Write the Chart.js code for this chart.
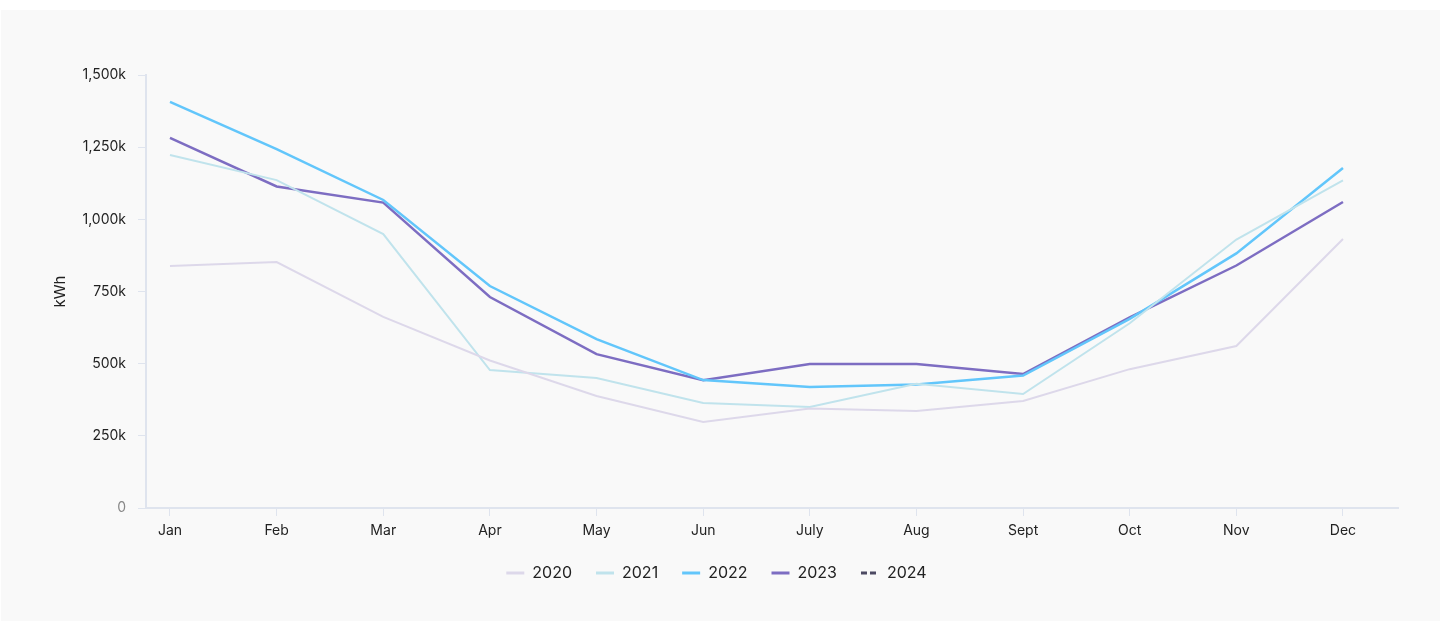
<!DOCTYPE html>
<html>
<head>
<meta charset="utf-8">
<script src="https://cdn.jsdelivr.net/npm/chart.js@4"></script>
<style>
    body { margin: 0; background: #ffffff; }
    #box { position: absolute; left: 1px; top: 10px; width: 1439px; height: 611px; background: #f9f9f9; }
</style>
</head>
<body>
<div id="box"><canvas id="usage" width="1439" height="611"></canvas></div>
<script>
// monthly usage in thousands of kWh
let months = ["Jan", "Feb", "Mar", "Apr", "May", "Jun", "July", "Aug", "Sept", "Oct", "Nov", "Dec"];
let years = ["2020", "2021", "2022", "2023", "2024"];
let usage2020 = [838, 852, 662, 511, 388, 298, 345, 336, 371, 481, 561, 932];
let usage2021 = [1223, 1136, 949, 478, 450, 364, 350, 430, 395, 640, 930, 1135];
let usage2022 = [1407, 1243, 1067, 769, 585, 443, 419, 428, 459, 655, 882, 1178];
let usage2023 = [1282, 1114, 1058, 731, 533, 443, 499, 499, 464, 660, 840, 1060];
let usage2024 = [];
let yTicks = [0, 250, 500, 750, 1000, 1250, 1500];

let colors = ['#ddd8ea', '#c0e3ec', '#62c6fb', '#7d6dc2', '#4d4a63'];
let widths = [2, 2, 2.5, 2.5, 2.5];
let series = [usage2020, usage2021, usage2022, usage2023, usage2024];

function toPoints(values) {
    return values.map((v, i) => ({ x: i, y: v }));
}

let datasets = years.map((year, i) => ({
    label: year,
    data: toPoints(series[i]),
    borderColor: colors[i],
    backgroundColor: colors[i],
    borderWidth: widths[i],
    borderDash: i == 4 ? [6, 3] : [],
    pointRadius: 0,
    tension: 0,
    fill: false
}));

let axisColor = '#dfe4ee';
let ctx = document.getElementById('usage');
let myChart = new Chart(ctx, {
    type: 'line',
    data: { datasets: datasets },
    options: {
        responsive: false,
        animation: false,
        layout: { padding: { top: 65, right: 42, bottom: 30, left: 34 } },
        font: { family: 'Inter' },
        plugins: {
            tooltip: { enabled: false },
            legend: {
                position: 'bottom',
                labels: {
                    usePointStyle: true,
                    pointStyle: 'line',
                    pointStyleWidth: 18,
                    padding: 24,
                    color: '#222222',
                    font: { family: 'Inter', size: 16 },
                    generateLabels: function (chart) {
                        let items = Chart.defaults.plugins.legend.labels.generateLabels(chart);
                        items.forEach(item => {
                            item.lineWidth = 3;
                            item.lineDash = chart.data.datasets[item.datasetIndex].borderDash;
                        });
                        return items;
                    }
                }
            }
        },
        scales: {
            x: {
                type: 'linear',
                min: -0.225,
                max: 11.516,
                afterBuildTicks: function (scale) {
                    scale.ticks = months.map((m, i) => ({ value: i }));
                },
                afterFit: function (scale) { scale.height = 33; },
                ticks: {
                    callback: (v) => months[v],
                    color: '#222222',
                    padding: 6,
                    font: { family: 'Inter', size: 14 }
                },
                grid: { drawOnChartArea: false, tickLength: 8, color: axisColor, tickColor: axisColor },
                border: { color: axisColor, width: 2 }
            },
            y: {
                min: 0,
                max: 1500,
                afterBuildTicks: function (scale) {
                    scale.ticks = yTicks.map(v => ({ value: v }));
                },
                afterFit: function (scale) { scale.width = 111; },
                title: {
                    display: true,
                    text: 'kWh',
                    color: '#222222',
                    padding: { top: 16, bottom: 0 },
                    font: { family: 'Inter', size: 15 }
                },
                ticks: {
                    callback: (v) => v == 0 ? '0' : v.toLocaleString('en-US') + 'k',
                    color: (c) => c.tick.value == 0 ? '#888888' : '#222222',
                    padding: 12,
                    font: { family: 'Inter', size: 14 }
                },
                grid: { drawOnChartArea: false, tickLength: 8, color: axisColor, tickColor: axisColor },
                border: { color: axisColor, width: 2 }
            }
        }
    }
});
</script>
</body>
</html>
